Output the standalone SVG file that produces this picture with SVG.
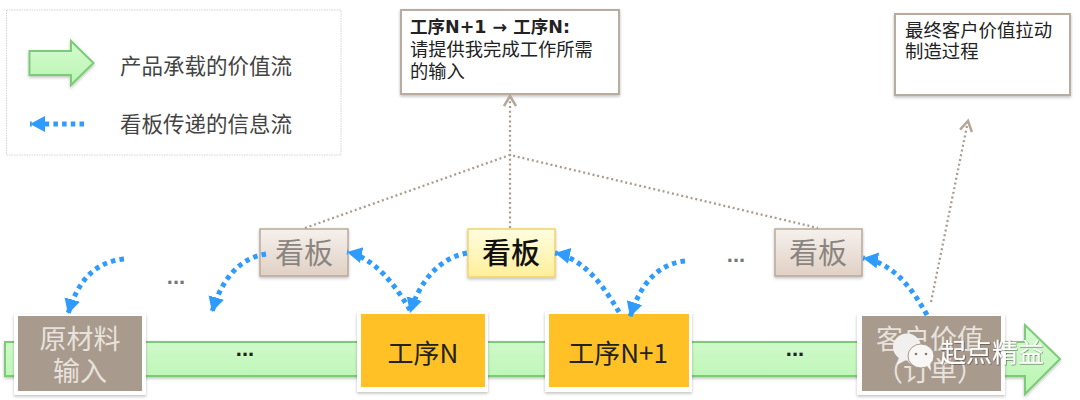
<svg xmlns="http://www.w3.org/2000/svg" width="1080" height="400" viewBox="0 0 1080 400">
<style>
text{font-family:"Noto Sans CJK SC","Liberation Sans",sans-serif}
.lg{font-size:21.5px;fill:#444}
.note{font-size:18.300px;fill:#222}
.ka{font-size:29px;text-anchor:middle;fill:#8a8580}
.raw{font-size:27px;text-anchor:middle;fill:#e8e2dc}
.proc{font-size:26px;text-anchor:middle;fill:#222}
.dots{font-family:"Liberation Sans",sans-serif;font-size:22px;text-anchor:middle;font-weight:bold}
.pull{fill:none;stroke:#2f9bff;stroke-width:5;stroke-dasharray:4.500 4.200;marker-end:url(#bh)}
.up{fill:none;stroke:#ab9c8e;stroke-width:2.300;stroke-dasharray:2 2.800}
.flow{fill:url(#gr);stroke:#7ccb78;stroke-width:2;filter:url(#sh)}
.box{fill:#fff;stroke:#b8aca0;stroke-width:2;filter:url(#sh)}
.kg{fill:url(#kb);stroke:#b9a99b;stroke-width:1.500;filter:url(#sh)}
.white{fill:#fff;filter:url(#sh)}
</style>
<defs>
<linearGradient id="gr" x1="0" y1="0" x2="0" y2="1"><stop offset="0" stop-color="#d6fbd2"/><stop offset="1" stop-color="#b8f5af"/></linearGradient>
<linearGradient id="kb" x1="0" y1="0" x2="0" y2="1"><stop offset="0" stop-color="#f6f1ed"/><stop offset="1" stop-color="#e0d0c4"/></linearGradient>
<linearGradient id="ky" x1="0" y1="0" x2="0" y2="1"><stop offset="0" stop-color="#fffde0"/><stop offset="1" stop-color="#ffef9a"/></linearGradient>
<filter id="sh" x="-10%" y="-10%" width="120%" height="125%"><feDropShadow dx="0" dy="1.500" stdDeviation="1.500" flood-color="#000" flood-opacity="0.25"/></filter>
<filter id="ws" x="-10%" y="-20%" width="120%" height="140%"><feDropShadow dx="0.500" dy="0.500" stdDeviation="0.600" flood-color="#000" flood-opacity="0.7"/></filter>
<marker id="bh" markerUnits="userSpaceOnUse" markerWidth="18" markerHeight="18" refX="15" refY="8" orient="auto"><path d="M0,0L15,8L0,16Z" fill="#2f9bff"/></marker>
<marker id="oh" markerUnits="userSpaceOnUse" markerWidth="16" markerHeight="16" refX="12" refY="7" orient="auto"><path d="M2,1L12,7L2,13" fill="none" stroke="#b5a79a" stroke-width="2.500"/></marker>
</defs>

<g id="legend">
<rect x="6.500" y="10" width="334.500" height="145" fill="#fff" stroke="#d8d2cc" stroke-dasharray="1.500 1"/>
<path class="flow" d="M29.500,51H71V41L93.500,63L71,85V75H29.500Z"/>
<text class="lg" x="120" y="74">产品承载的价值流</text>
<path class="pull" d="M84,124H30"/>
<text class="lg" x="120" y="132">看板传递的信息流</text>
</g>

<g id="value-stream">
<path class="flow" d="M5,342H1025V325L1060,359L1025,394V376H5Z"/>
<text class="dots" x="245" y="356" fill="#222">...</text>
<text class="dots" x="795" y="356" fill="#222">...</text>
</g>

<g id="note-pull">
<rect class="box" x="401" y="10" width="218" height="84"/>
<text x="410" y="33" font-size="17.500" font-weight="700" fill="#222" style="font-family:'DejaVu Sans','Noto Sans CJK SC',sans-serif">工序N+1 → 工序N:</text>
<text class="note" x="410" y="56">请提供我完成工作所需</text>
<text class="note" x="410" y="78">的输入</text>
</g>

<g id="note-customer">
<rect class="box" x="895" y="14" width="175" height="81"/>
<text class="note" x="905" y="37" style="font-size:18.400px">最终客户价值拉动</text>
<text class="note" x="905" y="58" style="font-size:18.400px">制造过程</text>
</g>

<g id="kanban-1">
<rect class="kg" x="260" y="229" width="88" height="47"/>
<text class="ka" x="304" y="264">看板</text>
</g>
<g id="kanban-2">
<rect x="468" y="229" width="87" height="48" fill="url(#ky)" stroke="#f3d36a" stroke-width="1.500" filter="url(#sh)"/>
<text class="ka" x="511" y="264" style="fill:#111;font-weight:500">看板</text>
</g>
<g id="kanban-3">
<rect class="kg" x="775" y="229" width="87" height="47"/>
<text class="ka" x="818" y="264">看板</text>
</g>

<g id="raw-material">
<rect class="white" x="14" y="314" width="132" height="81"/>
<rect x="18" y="316" width="124" height="75" fill="#a89a8c"/>
<text class="raw" x="80" y="349">原材料</text>
<text class="raw" x="80" y="381">输入</text>
</g>
<g id="process-n">
<rect class="white" x="357" y="312" width="131" height="80"/>
<rect x="361" y="314" width="124" height="73" fill="#ffc125"/>
<text class="proc" x="423" y="363">工序N</text>
</g>
<g id="process-n1">
<rect class="white" x="545" y="312" width="147" height="80"/>
<rect x="549" y="314" width="140" height="73" fill="#ffc125"/>
<text class="proc" x="618" y="363">工序N+1</text>
</g>
<g id="customer-value">
<rect class="white" x="857" y="314" width="148" height="81"/>
<rect x="862" y="316" width="139" height="75" fill="#a89a8c"/>
<text class="raw" x="930" y="349">客户价值</text>
<text class="raw" x="930" y="381">（订单）</text>
</g>

<g id="connectors">
<path class="up" d="M510,228V96" marker-end="url(#oh)"/>
<path class="up" d="M305,228L510,155L818,228"/>
<path class="up" d="M931,302L968,121" marker-end="url(#oh)"/>
<path class="pull" d="M124,259C95,262 78,280 68,314"/>
<path class="pull" d="M266,254C240,258 222,278 212,312"/>
<path class="pull" d="M410,310C395,285 375,258 347,252"/>
<path class="pull" d="M467,253C440,258 420,280 410,313"/>
<path class="pull" d="M619,312C604,287 585,259 555,253"/>
<path class="pull" d="M685,261C657,264 640,285 630,317"/>
<path class="pull" d="M927,315C912,288 893,263 863,258"/>
</g>

<g id="loose-dots">
<text class="dots" x="176" y="284" fill="#777">...</text>
<text class="dots" x="736" y="262" fill="#777">...</text>
</g>

<g id="watermark">
<ellipse cx="907" cy="347" rx="14" ry="13.500" fill="#f2f0ee"/>
<path d="M899,357L897,365L906,360Z" fill="#f2f0ee"/>
<ellipse cx="921" cy="356" rx="13" ry="12" fill="#f8f7f6" stroke="#a89a8c"/>
<path d="M927,366L931,371L930,362Z" fill="#f8f7f6"/>
<circle cx="916" cy="354" r="1.300" fill="#8a7c70"/>
<circle cx="926" cy="354" r="1.300" fill="#8a7c70"/>
<text x="940" y="362" font-size="26" fill="#fff" filter="url(#ws)">起点精益</text>
</g>
</svg>
